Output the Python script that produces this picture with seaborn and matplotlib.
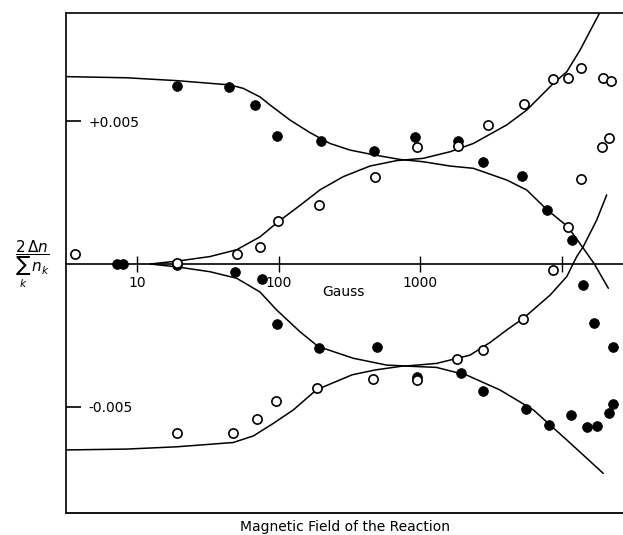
import matplotlib
matplotlib.use("Agg")
import matplotlib.pyplot as plt
from matplotlib.ticker import FixedLocator, FixedFormatter, NullLocator
import seaborn as sns

# ---------------- data ----------------
filled_x = [7.24, 7.93, 19.0, 19.0, 44.7, 49.0, 68.2, 75.7, 97.5, 97.5, 198, 193, 471, 497,
            918, 953, 1860, 1930, 2760, 2760, 5210, 5590, 7820, 8170, 11750, 11560,
            14190, 15000, 16900, 17650, 22900, 21430, 23120]
filled_y = [0.0, 0.0, 0.00623, -0.00003, 0.00621, -0.00029, 0.00557, -0.00054, 0.00448, -0.0021,
            0.00431, -0.00295, 0.00396, -0.00292, 0.00444, -0.00395, 0.00431, -0.0038,
            0.00356, -0.00443, 0.00308, -0.00509, 0.00189, -0.00562, 0.00084, -0.00529,
            -0.00074, -0.0057, -0.00205, -0.00566, -0.00289, -0.00523, -0.0049]

open_x = [3.63, 19.0, 50.4, 73.6, 99, 193, 479, 953, 1860, 2990, 5430, 8710, 11120, 13740,
          19630, 22270, 21690, 19320, 13600, 11020, 8710, 5300, 2790, 1820, 953, 461, 187,
          95.5, 70.5, 47.6, 19.0]
open_y = [0.00034, 0.00003, 0.00034, 0.00058, 0.0015, 0.00207, 0.00306, 0.00409, 0.00414,
          0.00487, 0.0056, 0.00647, 0.00651, 0.00685, 0.0065, 0.0064, 0.0044, 0.00408,
          0.00297, 0.00131, -0.00021, -0.00194, -0.00301, -0.00334, -0.00406, -0.00404,
          -0.00435, -0.00479, -0.00543, -0.0059, -0.00593]

curve_a_x = [3.17, 8.41, 19.0, 45.2, 56, 73.6, 86.6, 120, 166, 230, 318, 471, 719, 1050, 1622,
             2371, 4083, 5654, 7820, 11010, 14190, 16890, 21330]
curve_a_y = [0.00656, 0.00652, 0.00642, 0.00627, 0.00615, 0.00585, 0.00557, 0.00504, 0.0046,
             0.00422, 0.00399, 0.00382, 0.00366, 0.00358, 0.00343, 0.00335, 0.00294, 0.00259,
             0.00191, 0.00131, 0.00055, 0.00002, -0.00085]

curve_b_x = [12.3, 19.0, 32.6, 50.4, 73.6, 99.1, 141, 196, 286, 441, 681, 1050, 1622, 2371,
             4083, 5654, 8710, 10840, 13460, 18410]
curve_b_y = [0.0, 0.0001, 0.00026, 0.0005, 0.00095, 0.00148, 0.00205, 0.0026, 0.00306,
             0.00343, 0.00362, 0.0037, 0.00393, 0.00422, 0.00487, 0.00539, 0.00632, 0.00673,
             0.00749, 0.00877]

curve_c_x = [12.3, 19.0, 32.6, 50.4, 73.6, 96.6, 141, 190, 336, 579, 801, 1306, 2245, 3108,
             4083, 5350, 8260, 10840, 12750, 14190, 17650, 20760]
curve_c_y = [0.0, -0.0001, -0.00027, -0.0005, -0.00098, -0.00161, -0.00237, -0.00289, -0.0033,
             -0.00354, -0.00357, -0.00348, -0.00319, -0.00275, -0.00231, -0.0019, -0.00109,
             -0.00044, 0.00026, 0.00061, 0.00154, 0.00242]

curve_d_x = [3.17, 8.41, 19.0, 47.6, 66.1, 91.5, 126.6, 185, 330, 480, 759, 1300, 2128, 3656,
             6300, 10840, 19630]
curve_d_y = [-0.00651, -0.00648, -0.0064, -0.00625, -0.00602, -0.00558, -0.00511, -0.0044,
             -0.00388, -0.00371, -0.00357, -0.00362, -0.00389, -0.00441, -0.00511, -0.00616,
             -0.00733]

x_ticks = [10, 100, 1000, 10000]
x_tick_labels = ["10", "100", "1000", ""]
y_ticks = [0.005, -0.005]
y_tick_labels = ["+0.005", "-0.005"]

x_unit_label = "Gauss"
x_title = "Magnetic Field of the Reaction"
y_title = r"$\dfrac{2\,\Delta n}{\sum_k\, n_k}$"

# ---------------- figure ----------------
sns.set_theme(style="white")
plt.rcParams["font.family"] = ["DejaVu Sans"]
plt.rcParams["mathtext.fontset"] = "dejavusans"

fig = plt.figure(figsize=(6.23, 5.35), dpi=100)
ax = fig.add_axes([66 / 623, 22 / 535, 557 / 623, 500 / 535])
ax.set_xscale("log")
ax.set_xlim(3.134, 27070)
ax.set_ylim(-0.008718, 0.008788)

for cx, cy in [(curve_a_x, curve_a_y), (curve_b_x, curve_b_y),
               (curve_c_x, curve_c_y), (curve_d_x, curve_d_y)]:
    sns.lineplot(x=cx, y=cy, sort=False, estimator=None, color="black",
                 linewidth=1.1, ax=ax, zorder=2)

sns.scatterplot(x=filled_x, y=filled_y, color="black", edgecolor="black",
                s=50, linewidth=0.5, ax=ax, zorder=3)
sns.scatterplot(x=open_x, y=open_y, color="white", edgecolor="black",
                s=44, linewidth=1.2, ax=ax, zorder=4)

# axis styling: x axis drawn along zero line
ax.spines["bottom"].set_position(("data", 0))
ax.spines["right"].set_visible(False)
for sp in ["bottom", "left", "top"]:
    ax.spines[sp].set_color("black")
    ax.spines[sp].set_linewidth(1.2)
ax.plot([0, 1], [0, 0], transform=ax.transAxes, color="black", lw=1.3, clip_on=False)

ax.xaxis.set_major_locator(FixedLocator(x_ticks))
ax.xaxis.set_major_formatter(FixedFormatter(x_tick_labels))
ax.xaxis.set_minor_locator(NullLocator())
ax.yaxis.set_major_locator(FixedLocator(y_ticks))
ax.yaxis.set_major_formatter(FixedFormatter(y_tick_labels))
ax.yaxis.set_minor_locator(NullLocator())

ax.tick_params(axis="x", which="major", direction="inout", length=12, width=1.0,
               pad=3, labelsize=10, colors="black", bottom=True, top=False)
ax.tick_params(axis="y", which="major", direction="in", length=11, width=1.2,
               pad=-16, labelsize=10, colors="black", left=True, right=False)
for t in ax.yaxis.get_major_ticks():
    t.label1.set_horizontalalignment("left")

ax.set_xlabel(x_title, fontsize=10, color="black")
ax.xaxis.set_label_coords(0.5, -0.014)
ax.set_ylabel("")

ax.text(284, -0.00098, x_unit_label, ha="center", va="center", fontsize=10, color="black")
fig.text(0.052, 0.505, y_title, ha="center", va="center", fontsize=11, color="black")

ax.grid(False)
fig.savefig("out.png", dpi=100)
